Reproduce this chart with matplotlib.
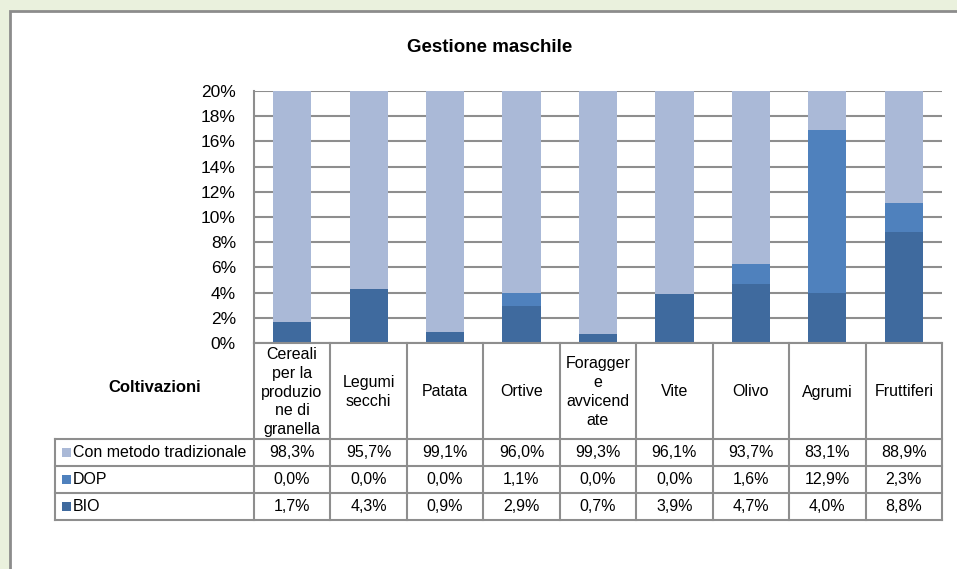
import matplotlib.pyplot as plt
from matplotlib.patches import Rectangle
from matplotlib.lines import Line2D

plt.rcParams["font.family"] = ["Liberation Sans", "DejaVu Sans"]

# data
colture = ["Cereali\nper la\nproduzio\nne di\ngranella", "Legumi\nsecchi", "Patata",
           "Ortive", "Foragger\ne\navvicend\nate", "Vite", "Olivo", "Agrumi", "Fruttiferi"]
serie = ["Con metodo tradizionale", "DOP", "BIO"]
tradizionale = [98.3, 95.7, 99.1, 96.0, 99.3, 96.1, 93.7, 83.1, 88.9]
dop = [0.0, 0.0, 0.0, 1.1, 0.0, 0.0, 1.6, 12.9, 2.3]
bio = [1.7, 4.3, 0.9, 2.9, 0.7, 3.9, 4.7, 4.0, 8.8]
colori = ["#AAB9D7", "#4F81BD", "#3F6A9E"]

W, H = 957, 569
fig = plt.figure(figsize=(W / 100, H / 100), dpi=100)
fig.patch.set_facecolor("#EAF1DD")

def px(x0, y0, x1, y1):
    return [x0 / W, 1 - y1 / H, (x1 - x0) / W, (y1 - y0) / H]

# white chart panel, kept behind the axes
fig.patches.append(Rectangle((10 / W, -0.1), 1.1, 1 - 11.5 / H + 0.1, transform=fig.transFigure,
                             facecolor="white", edgecolor="#8C8C8C", linewidth=2, zorder=-5))

grid_c = "#8E8E8E"
n = len(colture)
xs = list(range(n))

ax = fig.add_axes(px(254, 91, 942, 343))
bottom_dop = bio
bottom_trad = [b + d for b, d in zip(bio, dop)]
ax.bar(xs, [v / 100 for v in bio], width=0.5, color=colori[2], zorder=3)
ax.bar(xs, [v / 100 for v in dop], width=0.5, bottom=[v / 100 for v in bottom_dop],
       color=colori[1], zorder=3)
ax.bar(xs, [v / 100 for v in tradizionale], width=0.5, bottom=[v / 100 for v in bottom_trad],
       color=colori[0], zorder=3)
ax.set_xlim(-0.5, n - 0.5)
ax.set_ylim(0, 0.2)
ticks = [i / 100 for i in range(0, 21, 2)]
ax.set_yticks(ticks)
ax.set_yticklabels([f"{int(round(t * 100))}%" for t in ticks], fontsize=12.5)
ax.tick_params(axis="y", length=0, pad=13)
ax.set_xticks([])
ax.set_facecolor("none")
for t in ticks:
    ax.axhline(t, color=grid_c, linewidth=1.5, zorder=1)
for s in ["top", "right", "bottom"]:
    ax.spines[s].set_visible(False)
ax.spines["left"].set_color(grid_c)
ax.spines["left"].set_linewidth(1.5)

fig.text(490 / W, 1 - 47.5 / H, "Gestione maschile", ha="center", va="center",
         fontsize=13.5, fontweight="bold")

# data table under the bars
tab = fig.add_axes(px(55, 343, 942, 520))
tab.set_xlim(-3.1, n - 0.5)
tab.set_ylim(177, 0)
tab.axis("off")
rows_y = [0, 96, 123, 150, 177]
lw = 1.5
for j in range(n + 1):
    tab.add_line(Line2D([j - 0.5, j - 0.5], [0, 177], color=grid_c, lw=lw, clip_on=False))
tab.add_line(Line2D([-3.1, -3.1], [96, 177], color=grid_c, lw=lw, clip_on=False))
tab.add_line(Line2D([-0.5, n - 0.5], [0, 0], color=grid_c, lw=lw, clip_on=False))
for y in rows_y[1:]:
    tab.add_line(Line2D([-3.1, n - 0.5], [y, y], color=grid_c, lw=lw, clip_on=False))

tab.text(-1.8, 44, "Coltivazioni", ha="center", va="center", fontsize=12, fontweight="bold")
for j, name in enumerate(colture):
    tab.text(j, 49, name, ha="center", va="center", fontsize=11.5, linespacing=1.32)

valori = [tradizionale, dop, bio]
for r, (nome, vals, col) in enumerate(zip(serie, valori, colori)):
    yc = (rows_y[r + 1] + rows_y[r + 2]) / 2
    tab.add_patch(Rectangle((-3.01, yc - 4.5), 0.115, 9, facecolor=col, edgecolor="none"))
    tab.text(-2.87, yc, nome, ha="left", va="center", fontsize=11.5)
    for j, v in enumerate(vals):
        tab.text(j, yc, f"{v:.1f}%".replace(".", ","), ha="center", va="center", fontsize=11.5)

fig.savefig("out.png", dpi=100, facecolor=fig.get_facecolor())
